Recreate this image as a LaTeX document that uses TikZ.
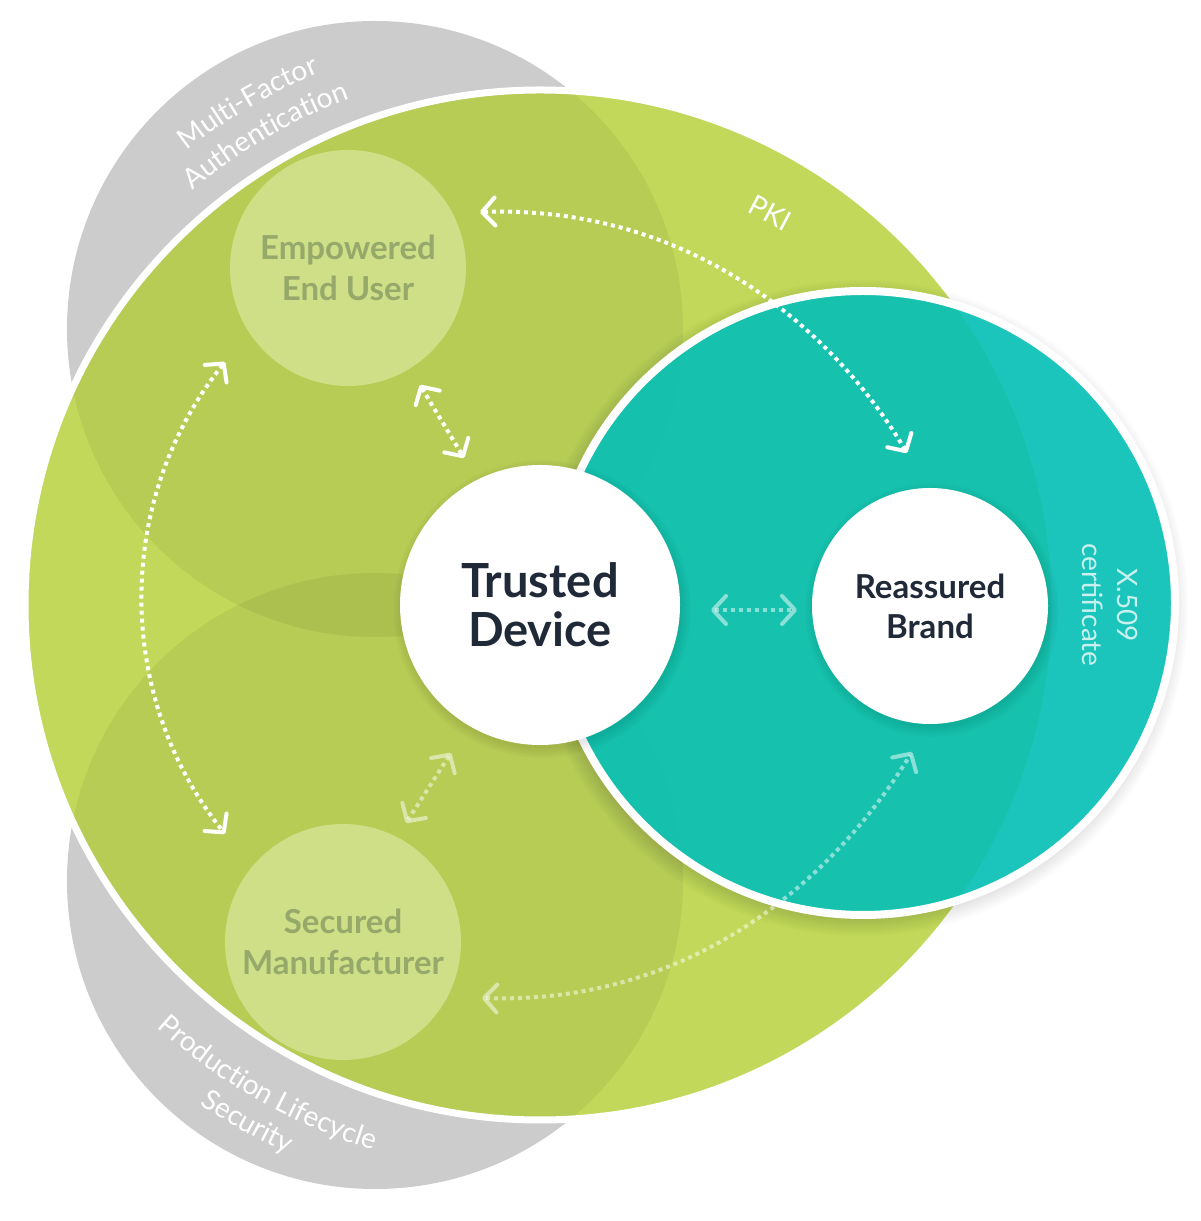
\documentclass[tikz,border=0pt]{standalone}
\usepackage{fontspec}
\setmainfont{Lato}
\usetikzlibrary{arrows.meta,decorations.text,calc}
\definecolor{grn}{RGB}{193,216,90}
\definecolor{gry}{RGB}{204,204,204}
\definecolor{tealc}{RGB}{7,195,184}
\definecolor{lgrn}{RGB}{206,223,135}
\definecolor{ltxt}{RGB}{150,168,106}
\definecolor{navy}{RGB}{31,41,55}
\definecolor{certc}{RGB}{200,240,236}
\newcommand\graylabfont{\fontsize{28}{35}\selectfont}
\begin{document}
\begin{tikzpicture}[x=1pt,y=1pt,
  barb/.tip={Straight Barb[round,length=13pt,width=28pt,line width=4pt]},
  dotarrow/.style={draw=white, line width=4pt, dash pattern=on 4pt off 4pt, barb-barb},
  faded/.style={draw opacity=0.5},
  bigwhite/.style={circle, fill=white, minimum size=280pt, inner sep=0pt, align=center,
    text=navy, font=\fontsize{47}{49}\selectfont\bfseries},
  smallwhite/.style={circle, fill=white, minimum size=236pt, inner sep=0pt, align=center,
    text=navy, font=\fontsize{33}{40}\selectfont\bfseries},
  lightcirc/.style={circle, fill=lgrn, minimum size=236pt, inner sep=0pt, align=center,
    text=ltxt, font=\fontsize{33}{41}\selectfont\bfseries},
  arclabel/.style={decorate, decoration={text along path, text align=center, text color=white}}
]
\fill[white] (0,0) rectangle (1200,1221);
\useasboundingbox (0,0) rectangle (1200,1221);

\coordinate (G) at (540,616);
\coordinate (GT) at (375,892);
\coordinate (GB) at (375,340);
\coordinate (T) at (863,618);

% gray circles
\fill[gry] (GT) circle[radius=308pt];
\fill[gry] (GB) circle[radius=308pt];

% big green circle
\fill[grn] (G) circle[radius=515pt];
\draw[white, line width=7pt] (G) circle[radius=515pt];
\begin{scope}
  \clip (G) circle[radius=511.5pt];
  \fill[black, opacity=0.055] (GT) circle[radius=308pt];
  \fill[black, opacity=0.055] (GB) circle[radius=308pt];
\end{scope}

% teal soft shadow
\foreach \i in {1,...,10}{
  \fill[black, opacity=0.012] ($(T)+(-3,-5)$) circle[radius=310pt+\i*1.8pt];
}
% teal circle
\fill[tealc, fill opacity=0.9] (T) circle[radius=312pt];
\draw[white, line width=8pt] (T) circle[radius=312pt];

% light circles
\node[lightcirc] (emp) at (348,953) {Empowered\\End User};
\node[lightcirc] (sec) at (343,279) {Secured\\Manufacturer};

% white circle shadows
\foreach \i in {1,...,6}{
  \fill[black, opacity=0.015] ($(G)+(2,-4)$) circle[radius=138pt+\i*1.8pt];
  \fill[black, opacity=0.015] ($(930,615)+(2,-4)$) circle[radius=116pt+\i*1.8pt];
}
\node[bigwhite] (td) at (540,616) {Trusted\\Device};
\node[smallwhite] (rb) at (930,615) {Reassured\\Brand};

% arrow end points
\coordinate (pkiA) at (480,1009);
\coordinate (pkiB) at (907,768);
\coordinate (botA) at (482,223);
\coordinate (botB) at (912,469);
\coordinate (leftA) at (225,859);
\coordinate (etA) at (420,836);
\coordinate (etB) at (464,763);
\coordinate (stA) at (451,468);
\coordinate (stB) at (406,398);
\coordinate (trA) at (711,611);
\coordinate (trB) at (797,611);

% dotted arrows
\draw[dotarrow] (pkiA) .. controls (700,1016) and (840,881) .. (pkiB);
\draw[dotarrow, faded] (botA) .. controls (700,216) and (840,351) .. (botB);
\draw[dotarrow] (leftA) arc[start angle=141.25, end angle=218.75, radius=377pt];
\draw[dotarrow] (etA) -- (etB);
\draw[dotarrow, faded] (stA) -- (stB);
\draw[dotarrow, faded] (trA) -- (trB);

% labels
\path[arclabel, decoration={text={|\graylabfont|Multi-Factor}}]
  ($(G)+(150.2:576)$) arc[start angle=150.2, end angle=90.2, radius=576pt];
\path[arclabel, decoration={text={|\graylabfont|Authentication}}]
  ($(G)+(150.3:541)$) arc[start angle=150.3, end angle=90.3, radius=541pt];
\path[arclabel, decoration={text={|\graylabfont|Production Lifecycle}}]
  ($(G)+(205.4:570)$) arc[start angle=205.4, end angle=275.4, radius=570pt];
\path[arclabel, decoration={text={|\graylabfont|Security}}]
  ($(G)+(210.5:604)$) arc[start angle=210.5, end angle=270.5, radius=604pt];

\node[rotate=-28, font=\graylabfont, text=white] (pki) at (770,1008) {PKI};
\node[rotate=-90, align=center, font=\graylabfont, text=certc] (x509) at (1110,616) {X.509\\certificate};
\end{tikzpicture}
\end{document}
